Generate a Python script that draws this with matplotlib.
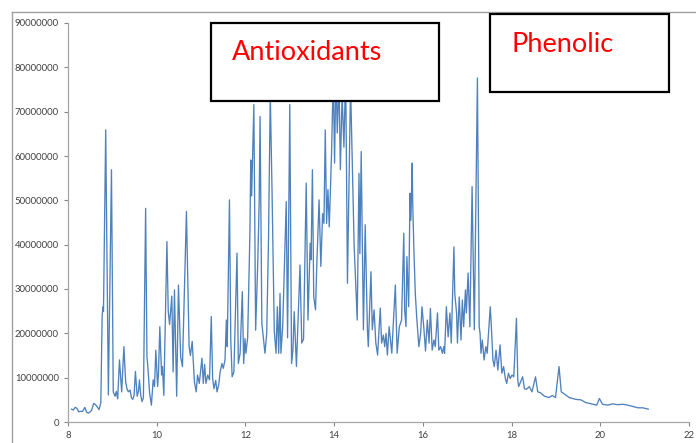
import matplotlib
matplotlib.use('Agg')
import matplotlib.pyplot as plt
from matplotlib.patches import Rectangle
from matplotlib.lines import Line2D

# retention time (min)
time = [8.08, 8.12, 8.16, 8.20, 8.24, 8.28, 8.33, 8.38, 8.42, 8.46, 8.50, 8.53,
        8.58, 8.62, 8.66, 8.70, 8.74, 8.77, 8.79, 8.80, 8.85, 8.91, 8.98, 9.02,
        9.06, 9.09, 9.12, 9.16, 9.21, 9.26, 9.30, 9.33, 9.36, 9.40, 9.43, 9.46,
        9.49, 9.52, 9.56, 9.59, 9.61, 9.64, 9.67, 9.70, 9.75, 9.78, 9.80, 9.84,
        9.88, 9.92, 9.95, 9.98, 10.02, 10.04, 10.07, 10.11, 10.13, 10.16, 10.23,
        10.26, 10.29, 10.34, 10.37, 10.40, 10.45, 10.49, 10.54, 10.58, 10.67,
        10.73, 10.76, 10.80, 10.85, 10.89, 10.92, 10.96, 11.02, 11.05, 11.08,
        11.11, 11.15, 11.19, 11.23, 11.26, 11.29, 11.33, 11.36, 11.40, 11.43,
        11.47, 11.50, 11.54, 11.57, 11.59, 11.64, 11.67, 11.70, 11.74, 11.81,
        11.84, 11.88, 11.93, 11.96, 11.99, 12.01, 12.05, 12.10, 12.12, 12.14,
        12.19, 12.23, 12.28, 12.31, 12.33, 12.37, 12.44, 12.48, 12.52, 12.56,
        12.60, 12.65, 12.69, 12.72, 12.75, 12.78, 12.80, 12.84, 12.92, 12.95,
        13.00, 13.04, 13.07, 13.10, 13.15, 13.23, 13.27, 13.31, 13.37, 13.41,
        13.46, 13.48, 13.51, 13.54, 13.58, 13.61, 13.66, 13.70, 13.74, 13.77,
        13.80, 13.83, 13.86, 13.89, 13.94, 13.98, 14.01, 14.04, 14.07, 14.11,
        14.14, 14.18, 14.22, 14.26, 14.30, 14.37, 14.45, 14.52, 14.56, 14.58,
        14.61, 14.66, 14.70, 14.75, 14.77, 14.83, 14.86, 14.90, 14.94, 14.98,
        15.04, 15.07, 15.11, 15.14, 15.17, 15.20, 15.24, 15.30, 15.33, 15.38,
        15.42, 15.47, 15.52, 15.57, 15.59, 15.62, 15.64, 15.68, 15.71, 15.73,
        15.76, 15.77, 15.80, 15.83, 15.86, 15.91, 15.95, 15.98, 16.02, 16.06,
        16.10, 16.14, 16.17, 16.21, 16.25, 16.28, 16.33, 16.36, 16.40, 16.44,
        16.47, 16.49, 16.53, 16.57, 16.61, 16.64, 16.70, 16.72, 16.76, 16.78,
        16.82, 16.86, 16.89, 16.92, 16.96, 16.98, 17.02, 17.06, 17.11, 17.16,
        17.23, 17.27, 17.29, 17.31, 17.34, 17.38, 17.42, 17.45, 17.52, 17.54,
        17.58, 17.61, 17.65, 17.69, 17.74, 17.78, 17.82, 17.86, 17.89, 17.93,
        17.97, 18.01, 18.05, 18.11, 18.14, 18.16, 18.20, 18.25, 18.29, 18.34,
        18.40, 18.46, 18.54, 18.59, 18.65, 18.73, 18.84, 18.92, 18.99, 19.07,
        19.12, 19.18, 19.30, 19.45, 19.56, 19.67, 19.83, 19.92, 19.98, 20.05,
        20.17, 20.28, 20.39, 20.51, 20.62, 20.74, 20.85, 20.96, 21.08]

# intensity in millions of counts
intensity = [2.9, 2.7, 3.3, 3.1, 2.3, 2.4, 2.4, 3.3, 2.2, 2.0, 2.3, 2.6,
             4.2, 3.9, 3.4, 2.8, 4.3, 24.0, 26.0, 25.0, 65.9, 6.1, 56.9, 6.8,
             5.8, 6.9, 5.2, 14.0, 6.8, 17.0, 9.0, 7.5, 6.8, 7.2, 5.5, 5.1,
             6.0, 11.4, 5.8, 7.0, 9.5, 6.0, 4.6, 5.5, 48.2, 14.7, 12.5, 6.5,
             3.8, 9.5, 8.0, 16.2, 8.0, 11.0, 21.5, 10.6, 12.5, 6.0, 40.7,
             25.0, 22.0, 28.4, 11.3, 29.8, 5.8, 30.9, 14.7, 12.5, 47.5,
             17.0, 15.0, 18.2, 9.0, 6.8, 10.6, 8.7, 14.4, 8.7, 13.0,
             8.7, 10.6, 9.5, 23.8, 9.9, 7.5, 9.4, 6.8, 8.5, 11.3,
             13.2, 12.1, 14.0, 23.0, 17.0, 50.1, 18.4, 10.2, 11.3, 38.1,
             13.2, 15.5, 29.4, 13.2, 18.8, 15.5, 19.0, 42.0, 59.1, 51.0,
             71.6, 20.7, 36.6, 50.0, 68.9, 22.3, 15.5, 20.0, 41.0, 74.0,
             52.0, 20.7, 15.5, 26.0, 15.5, 29.0, 15.5, 21.5, 49.7, 19.0,
             71.6, 13.2, 16.2, 24.9, 12.5, 35.4, 17.8, 18.7, 53.9, 23.0,
             40.3, 36.6, 56.9, 28.2, 25.3, 35.8, 50.1, 35.1, 47.0, 44.8,
             65.9, 44.8, 52.4, 44.0, 60.0, 78.0, 58.4, 80.0, 65.2, 77.0,
             56.9, 74.0, 62.0, 79.0, 31.3, 76.0, 40.0, 23.0, 56.1, 38.0,
             61.0, 20.8, 44.5, 20.8, 17.0, 33.9, 20.8, 25.3, 17.8, 15.1,
             25.7, 17.8, 19.6, 17.0, 20.0, 15.1, 21.5, 15.5, 21.5, 30.9,
             15.5, 21.5, 23.0, 42.6, 25.3, 21.5, 37.3, 26.0, 51.6, 45.5,
             58.4, 50.0, 38.0, 29.0, 23.8, 17.0, 20.0, 26.0, 21.5, 16.0,
             23.0, 17.8, 25.6, 16.2, 18.5, 17.0, 24.6, 16.2, 17.0, 15.5,
             17.0, 15.5, 26.0, 19.2, 24.6, 17.8, 39.5, 29.0, 24.6, 17.8,
             28.2, 18.5, 27.5, 21.5, 29.8, 24.6, 33.6, 21.5, 53.1, 20.8,
             77.6, 21.5, 20.0, 15.5, 18.5, 14.0, 17.0, 15.5, 26.0, 22.3,
             14.0, 12.5, 16.2, 11.7, 17.4, 11.0, 12.5, 9.8, 8.7, 11.0,
             9.8, 10.6, 10.2, 23.4, 9.5, 8.0, 9.0, 10.2, 7.5, 7.4,
             8.0, 6.8, 10.2, 6.8, 6.6, 5.9, 5.5, 6.0, 5.5, 12.5,
             6.8, 6.4, 5.5, 5.1, 5.0, 4.4, 4.0, 3.8, 5.3, 4.0,
             3.8, 4.1, 3.9, 4.0, 3.8, 3.5, 3.2, 3.2, 2.9]

x_ticks = [8, 10, 12, 14, 16, 18, 20, 22]
y_ticks = [0, 10000000, 20000000, 30000000, 40000000, 50000000,
           60000000, 70000000, 80000000, 90000000]

plt.rcParams['font.family'] = ['Lato', 'DejaVu Sans']

fig = plt.figure(figsize=(6.96, 4.43), dpi=100)
ax = fig.add_axes([68 / 696, 21 / 443, 621 / 696, 399 / 443])

ax.plot(time, [v * 1e6 for v in intensity], color='#4F81BD', lw=0.95)

ax.set_xlim(8, 22)
ax.set_ylim(0, 90000000)
ax.set_xticks(x_ticks)
ax.set_yticks(y_ticks)
ax.set_xticklabels([str(t) for t in x_ticks])
ax.set_yticklabels([str(t) for t in y_ticks])
ax.tick_params(colors='#868686', labelcolor='#404040', labelsize=6.9,
               length=3, width=0.8, direction='out')
for side in ['top', 'right']:
    ax.spines[side].set_visible(False)
for side in ['left', 'bottom']:
    ax.spines[side].set_color('#A6A6A6')
    ax.spines[side].set_linewidth(0.9)

# outer chart-area border (top and left edges only visible)
fig.add_artist(Line2D([12 / 696, 12 / 696], [0, 1 - 12 / 443],
                      color='#A0A0A0', lw=1.0))
fig.add_artist(Line2D([12 / 696, 1], [1 - 12 / 443, 1 - 12 / 443],
                      color='#A0A0A0', lw=1.0))

# annotation boxes
fig.add_artist(Rectangle((211 / 696, 1 - 101 / 443), 228 / 696, 78 / 443,
                         facecolor='white', edgecolor='black', lw=1.6,
                         zorder=5))
fig.text(232 / 696, 1 - 53 / 443, 'Antioxidants', color='red', fontsize=19.5,
         ha='left', va='center', zorder=6)

fig.add_artist(Rectangle((490 / 696, 1 - 92 / 443), 179 / 696, 78 / 443,
                         facecolor='white', edgecolor='black', lw=1.6,
                         zorder=5))
fig.text(512 / 696, 1 - 44 / 443, 'Phenolic', color='red', fontsize=19.5,
         ha='left', va='center', zorder=6)

fig.savefig('out.png', dpi=100)
